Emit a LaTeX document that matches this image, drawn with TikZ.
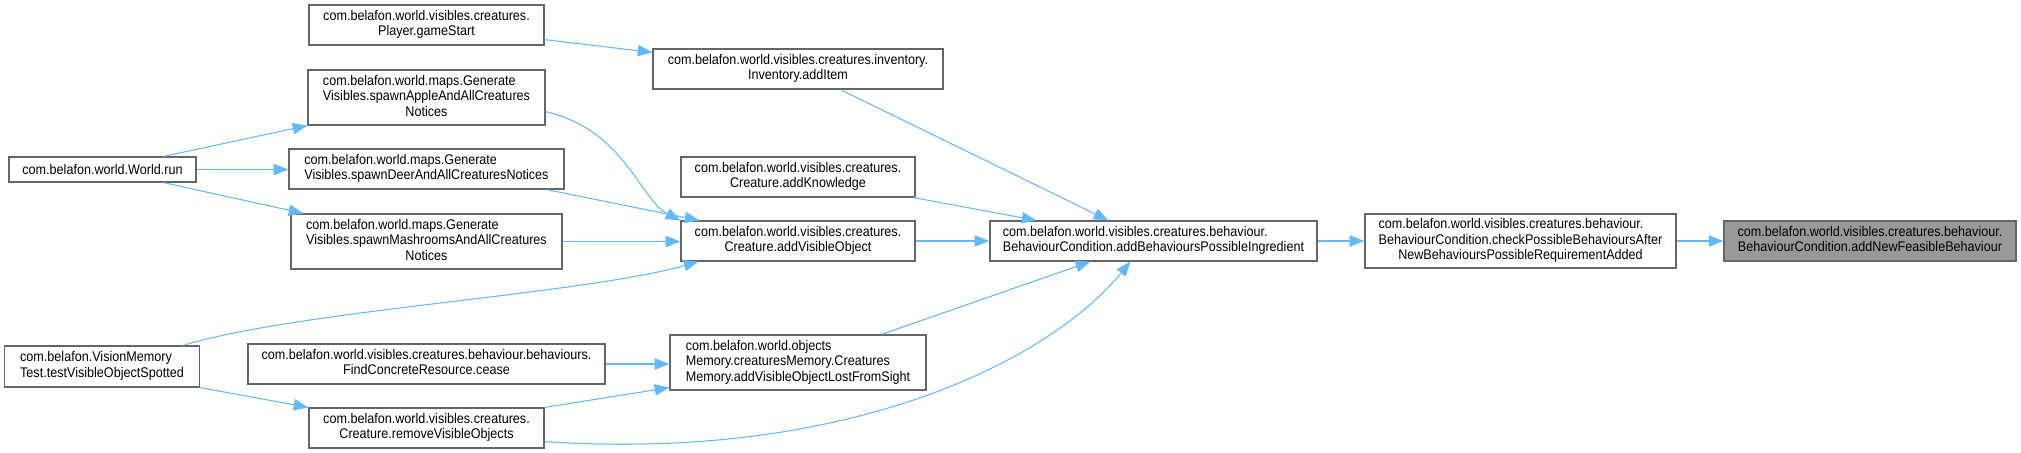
\documentclass[tikz,border=0pt]{standalone}
\usepackage{fontspec}
\setmainfont{Liberation Sans}[FakeStretch=0.9]
\usetikzlibrary{arrows.meta}
\definecolor{edgeblue}{HTML}{63B8FF}
\definecolor{boxgray}{HTML}{666666}
\definecolor{focusfill}{HTML}{999999}
\newcommand{\twol}[2]{\begin{tabular}{@{}l@{}}#1\\\multicolumn{1}{@{}c@{}}{#2}\end{tabular}}
\newcommand{\threel}[3]{\begin{tabular}{@{}l@{}}#1\\#2\\\multicolumn{1}{@{}c@{}}{#3}\end{tabular}}
\tikzset{
  fnbox/.style={draw=boxgray, fill=white, line width=0.9pt, inner sep=0pt, rectangle,
    font=\fontsize{10.5}{11.6}\selectfont},
  focusbox/.style={fnbox, fill=focusfill},
  calls/.style={draw=edgeblue, line width=0.8pt, -{Triangle[length=11pt,width=8.5pt]}},
}
\begin{document}
\begin{tikzpicture}[x=0.75pt,y=-0.75pt]
\useasboundingbox (0,0) rectangle (2021,453);
% nodes (centre, width, height in px)
\node[fnbox, minimum width=176.25pt, minimum height=30pt] (player) at (426.5,25)
  {\twol{com.belafon.world.visibles.creatures.}{Player.gameStart}};
\node[fnbox, minimum width=177.75pt, minimum height=41.25pt] (apple) at (426.5,97.5)
  {\threel{com.belafon.world.maps.Generate}{Visibles.spawnAppleAndAllCreatures}{Notices}};
\node[fnbox, minimum width=140.25pt, minimum height=18.75pt] (world) at (102.5,169.5)
  {com.belafon.world.World.run};
\node[fnbox, minimum width=206.25pt, minimum height=30pt] (deer) at (426.5,169)
  {\twol{com.belafon.world.maps.Generate}{Visibles.spawnDeerAndAllCreaturesNotices}};
\node[fnbox, minimum width=203.25pt, minimum height=41.25pt] (mash) at (426.5,241.5)
  {\threel{com.belafon.world.maps.Generate}{Visibles.spawnMashroomsAndAllCreatures}{Notices}};
\node[fnbox, minimum width=146.25pt, minimum height=30.75pt] (vision) at (102,366.5)
  {\twol{com.belafon.VisionMemory}{Test.testVisibleObjectSpotted}};
\node[fnbox, minimum width=267.75pt, minimum height=30pt] (cease) at (426.5,364)
  {\twol{com.belafon.world.visibles.creatures.behaviour.behaviours.}{FindConcreteResource.cease}};
\node[fnbox, minimum width=176.25pt, minimum height=30pt] (remove) at (426.5,428)
  {\twol{com.belafon.world.visibles.creatures.}{Creature.removeVisibleObjects}};
\node[fnbox, minimum width=217.5pt, minimum height=30pt] (additem) at (798,69)
  {\twol{com.belafon.world.visibles.creatures.inventory.}{Inventory.addItem}};
\node[fnbox, minimum width=175.5pt, minimum height=30pt] (knowledge) at (798,177)
  {\twol{com.belafon.world.visibles.creatures.}{Creature.addKnowledge}};
\node[fnbox, minimum width=175.5pt, minimum height=30pt] (addvis) at (798,241)
  {\twol{com.belafon.world.visibles.creatures.}{Creature.addVisibleObject}};
\node[fnbox, minimum width=192pt, minimum height=41.25pt] (memory) at (798,362.5)
  {\threel{com.belafon.world.objects}{Memory.creaturesMemory.Creatures}{Memory.addVisibleObjectLostFromSight}};
\node[fnbox, minimum width=245.25pt, minimum height=30pt] (ingr) at (1153.5,241)
  {\twol{com.belafon.world.visibles.creatures.behaviour.}{BehaviourCondition.addBehavioursPossibleIngredient}};
\node[fnbox, minimum width=233.25pt, minimum height=40.5pt] (check) at (1520.5,241)
  {\threel{com.belafon.world.visibles.creatures.behaviour.}{BehaviourCondition.checkPossibleBehavioursAfter}{NewBehavioursPossibleRequirementAdded}};
\node[focusbox, minimum width=219pt, minimum height=30pt] (feas) at (1870,241)
  {\twol{com.belafon.world.visibles.creatures.behaviour.}{BehaviourCondition.addNewFeasibleBehaviour}};
% connectors
\draw[calls] ([shift={(0,-6)}]player.south east) -- ([shift={(0,4)}]additem.north west);
\draw[calls] ([shift={(-33,0)}]world.north east) -- (apple.south west);
\draw[calls] (world.east) -- (world.east -| deer.west);
\draw[calls] ([shift={(-33,0)}]world.south east) -- ([shift={(13,0)}]mash.north west);
\draw[calls] ([shift={(0,-14)}]apple.south east) .. controls (625,130) and (640,200) .. (addvis.north west);
\draw[calls] ([shift={(-18,0)}]deer.south east) -- ([shift={(19,0)}]addvis.north west);
\draw[calls] (mash.east) -- (mash.east -| addvis.west);
\draw[calls] ([shift={(-17,0)}]vision.north east) .. controls (300,310) and (580,295) .. ([shift={(18,0)}]addvis.south west);
\draw[calls] (vision.south east) -- (remove.north west);
\draw[calls] (cease.east) -- (cease.east -| memory.west);
\draw[calls] (remove.north east) -- ([shift={(0,-3)}]memory.south west);
\draw[calls] ([shift={(0,-7)}]remove.south east) .. controls (850,462) and (1050,360) .. ([shift={(141,0)}]ingr.south west);
\draw[calls] ([shift={(-45,0)}]memory.north east) -- ([shift={(101,0)}]ingr.south west);
\draw[calls] (addvis.east) -- (ingr.west);
\draw[calls] ([shift={(-2,0)}]knowledge.south east) -- ([shift={(47,0)}]ingr.north west);
\draw[calls] ([shift={(188,0)}]additem.south west) -- ([shift={(119,0)}]ingr.north west);
\draw[calls] (ingr.east) -- (check.west);
\draw[calls] (check.east) -- (feas.west);
\end{tikzpicture}
\end{document}
